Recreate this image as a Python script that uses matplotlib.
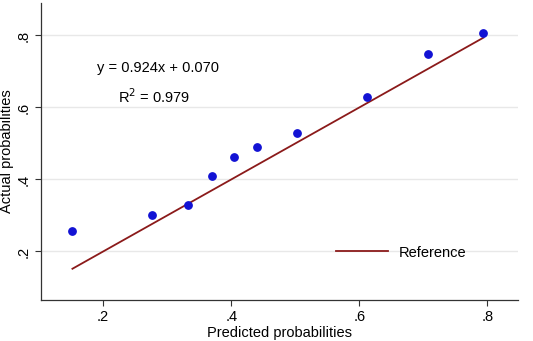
import matplotlib.pyplot as plt

plt.rcParams['font.family'] = ['Liberation Sans', 'DejaVu Sans']

# Calibration data
predicted = [0.152, 0.277, 0.333, 0.370, 0.405, 0.441, 0.503, 0.612, 0.708, 0.794]
actual = [0.257, 0.301, 0.329, 0.410, 0.462, 0.490, 0.529, 0.629, 0.749, 0.807]
ticks = [0.2, 0.4, 0.6, 0.8]
tick_labels = ['.2', '.4', '.6', '.8']
fit_text = 'y = 0.924x + 0.070'
r2_text = 'R$^2$ = 0.979'

fig = plt.figure(figsize=(5.33, 3.41), dpi=100)
ax = fig.add_axes([0.077, 0.12, 0.895, 0.871])

# 45-degree reference line across the range of predictions
ref = [min(predicted), max(predicted)]
ax.plot(ref, ref, color='#8B1A1A', lw=1.3, label='Reference', zorder=2)
ax.scatter(predicted, actual, s=28, color='#1212D4', zorder=3)

ax.set_xlim(0.103, 0.848)
ax.set_ylim(0.065, 0.89)
ax.set_xticks(ticks)
ax.set_xticklabels(tick_labels)
ax.set_yticks(ticks)
ax.set_yticklabels(tick_labels, rotation=90, va='center')
ax.tick_params(labelsize=10.5, length=4, width=0.8, color='#333333')
ax.grid(axis='y', color='#E8E8E8', lw=1)
ax.set_axisbelow(True)
for s in ['top', 'right']:
    ax.spines[s].set_visible(False)
for s in ['left', 'bottom']:
    ax.spines[s].set_color('#333333')
    ax.spines[s].set_linewidth(0.9)

ax.set_xlabel('Predicted probabilities', fontsize=10.5, labelpad=1)
ax.set_ylabel('Actual probabilities', fontsize=10.5, labelpad=2)

ax.text(0.191, 0.71, fit_text, fontsize=10.5, va='center')
ax.text(0.223, 0.629, r2_text, fontsize=10.5, va='center')

ax.legend(loc='center left', bbox_to_anchor=(0.59, 0.16), frameon=False,
          fontsize=10.5, handlelength=3.6, handletextpad=0.7)

fig.savefig('out.png', dpi=100)
